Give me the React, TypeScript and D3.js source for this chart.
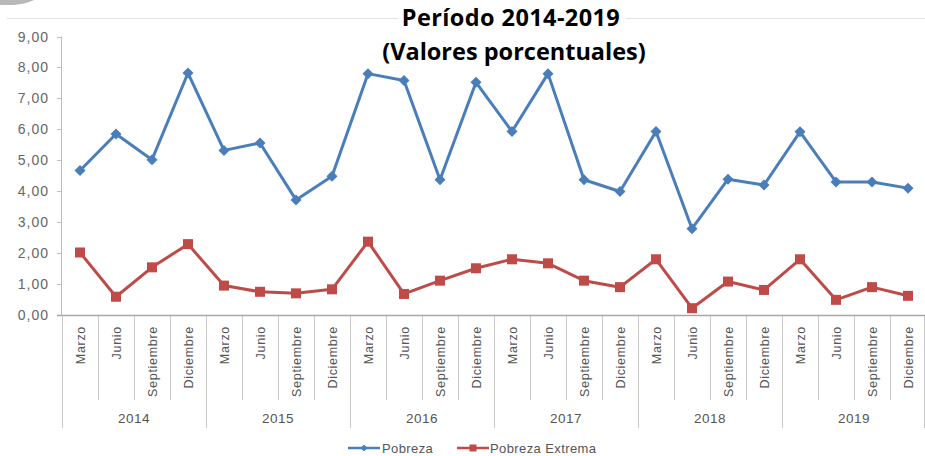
import React from "react";
import * as d3 from "d3";

const years = ["2014", "2015", "2016", "2017", "2018", "2019"];
const months = ["Marzo", "Junio", "Septiembre", "Diciembre"];
const pobreza = [4.67, 5.85, 5.02, 7.82, 5.32, 5.56, 3.72, 4.48, 7.8, 7.58, 4.37, 7.52, 5.93, 7.8, 4.37, 3.99, 5.93, 2.79, 4.39, 4.2, 5.92, 4.3, 4.3, 4.1];
const pobrezaExtrema = [2.02, 0.59, 1.54, 2.29, 0.95, 0.75, 0.7, 0.83, 2.37, 0.68, 1.11, 1.51, 1.8, 1.67, 1.11, 0.9, 1.8, 0.22, 1.08, 0.81, 1.8, 0.49, 0.9, 0.62];
const yTicks = [0, 1, 2, 3, 4, 5, 6, 7, 8, 9];
const titleLines = ["Período 2014-2019", "(Valores porcentuales)"];
const seriesNames = ["Pobreza", "Pobreza Extrema"];

const BLUE = "#4A7EBB";
const RED = "#BE4B48";

export default function App() {
  const W = 925, H = 456;
  const cats = years.flatMap((y) => months.map((m) => `${y}-${m}`));
  const x = d3.scaleBand<string>().domain(cats).range([62, 926]);
  const y = d3.scaleLinear().domain([0, 9]).range([315, 36.5]);
  const cx = (i: number) => (x(cats[i]) as number) + x.bandwidth() / 2;
  const line = d3
    .line<number>()
    .x((_, i) => cx(i))
    .y((d) => y(d));
  const fmt = (v: number) => v.toFixed(2).replace(".", ",");
  const bw = x.bandwidth();
  const yearW = bw * months.length;

  const diamond = (px: number, py: number, r: number) =>
    `M${px},${py - r}L${px + r},${py}L${px},${py + r}L${px - r},${py}Z`;

  return (
    <svg
      width={W}
      height={H}
      style={{ position: "absolute", left: 0, top: 0, background: "#fff" }}
      fontFamily="'Liberation Sans', Arial, sans-serif"
    >
      <rect x={0} y={0} width={W} height={H} fill="#fff" />
      {/* top-left decoration */}
      <path d="M0,0 L34,0 Q26,4 14,5 L0,5 Z" fill="#9a9a9a" opacity={0.7} />
      {/* top light rule */}
      <line x1={7} x2={925} y1={18.5} y2={18.5} stroke="#e3e3e3" strokeWidth={1} />
      <rect x={398} y={6} width={228} height={26} fill="#fff" />
      {/* title */}
      <text x={511} y={26} textAnchor="middle" fontFamily="'Open Sans', sans-serif" fontWeight={700} fontSize={23.5} letterSpacing={0.4} fill="#000">
        {titleLines[0]}
      </text>
      <text x={514} y={60} textAnchor="middle" fontFamily="'Open Sans', sans-serif" fontWeight={700} fontSize={23.5} fill="#000">
        {titleLines[1]}
      </text>

      {/* y axis */}
      <line x1={61.5} x2={61.5} y1={y(9)} y2={315} stroke="#bdbdbd" strokeWidth={1} />
      {yTicks.map((t) => (
        <g key={t}>
          <line x1={57} x2={61.5} y1={Math.round(y(t)) + 0.5} y2={Math.round(y(t)) + 0.5} stroke="#bdbdbd" />
          <text x={49} y={y(t) + 5} textAnchor="end" fontSize={14} fill="#666" letterSpacing={1}>
            {fmt(t)}
          </text>
        </g>
      ))}

      {/* x axis */}
      <line x1={57} x2={926} y1={315.5} y2={315.5} stroke="#a6a6a6" strokeWidth={1.5} />
      {cats.map((c, i) =>
        i % months.length === 0 ? null : (
          <line key={"s" + c} x1={Math.round(x(c) as number) + 0.5} x2={Math.round(x(c) as number) + 0.5} y1={316} y2={400} stroke="#c8c8c8" />
        )
      )}
      {years.map((yr, j) => (
        <line key={"ys" + yr} x1={Math.round(62 + j * yearW) + 0.5} x2={Math.round(62 + j * yearW) + 0.5} y1={316} y2={428} stroke="#c8c8c8" />
      ))}
      <line x1={924.5} x2={924.5} y1={316} y2={428} stroke="#c8c8c8" />
      {cats.map((c, i) => (
        <text
          key={"m" + c}
          transform={`translate(${cx(i) + 4.5},326) rotate(-90)`}
          textAnchor="end"
          fontSize={12.5}
          fill="#555"
          letterSpacing={0.7}
        >
          {months[i % months.length]}
        </text>
      ))}
      {years.map((yr, j) => (
        <text key={"y" + yr} x={62 + j * yearW + yearW / 2} y={423} textAnchor="middle" fontSize={13.5} fill="#555" letterSpacing={0.5}>
          {yr}
        </text>
      ))}

      {/* series */}
      <path d={line(pobreza) as string} fill="none" stroke={BLUE} strokeWidth={3} strokeLinejoin="round" />
      {pobreza.map((v, i) => (
        <path key={"p" + i} d={diamond(cx(i), y(v), 5.5)} fill={BLUE} />
      ))}
      <path d={line(pobrezaExtrema) as string} fill="none" stroke={RED} strokeWidth={3} strokeLinejoin="round" />
      {pobrezaExtrema.map((v, i) => (
        <rect key={"e" + i} x={cx(i) - 5} y={y(v) - 5} width={10} height={10} fill={RED} />
      ))}

      {/* legend */}
      <g>
        <line x1={348} x2={380} y1={448} y2={448} stroke={BLUE} strokeWidth={2.5} />
        <path d={diamond(364, 448, 3.5)} fill={BLUE} />
        <text x={382} y={453} fontSize={13} fill="#555" letterSpacing={0.4}>
          {seriesNames[0]}
        </text>
        <line x1={457} x2={489} y1={448} y2={448} stroke={RED} strokeWidth={2.5} />
        <rect x={469.5} y={444.5} width={7} height={7} fill={RED} />
        <text x={490} y={453} fontSize={13} fill="#555" letterSpacing={0.4}>
          {seriesNames[1]}
        </text>
      </g>
    </svg>
  );
}
